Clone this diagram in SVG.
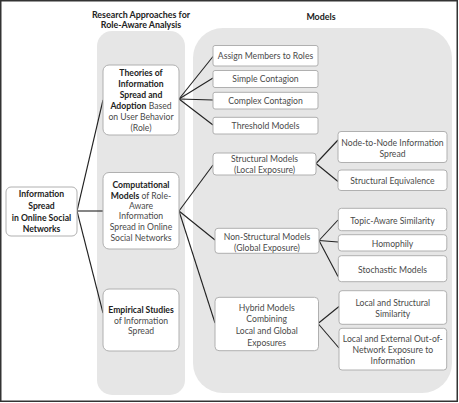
<svg xmlns="http://www.w3.org/2000/svg" width="459" height="403" viewBox="0 0 459 403">
<style>
text{font-family:Lato,"Open Sans","Liberation Sans",sans-serif;font-size:8.65px;fill:#4a4a4a;text-anchor:middle}
.b{font-weight:bold;fill:#222}
.t{font-weight:bold;fill:#222;font-size:8.9px}
.box{fill:#fff;stroke:#b0b0b0;stroke-width:1}
.panel{fill:#e6e6e6}
.c line{stroke:#222;stroke-width:1.1}
</style>
<rect x="0" y="0" width="459" height="403" fill="#fff"/>
<rect x="0.75" y="0.75" width="456.5" height="400.5" fill="none" stroke="#333" stroke-width="1.5"/>
<g id="panel-approaches"><rect class="panel" x="97" y="31" width="88" height="364" rx="15"/>
<text class="t" x="141" y="17.5">Research Approaches for</text>
<text class="t" x="141" y="28">Role-Aware Analysis</text></g>
<g id="panel-models"><rect class="panel" x="193" y="28" width="259" height="365" rx="30"/>
<text class="t" x="321" y="19.5">Models</text></g>
<g class="c" id="connectors">
<line x1="77" y1="211" x2="103" y2="100"/>
<line x1="77" y1="211" x2="103" y2="211"/>
<line x1="77" y1="211" x2="103" y2="313"/>
<line x1="179" y1="99" x2="213" y2="56.5"/>
<line x1="179" y1="99" x2="213" y2="78"/>
<line x1="179" y1="99" x2="213" y2="100"/>
<line x1="179" y1="99" x2="213" y2="125"/>
<line x1="179" y1="211" x2="213" y2="165"/>
<line x1="179" y1="211" x2="215" y2="240"/>
<line x1="179" y1="211" x2="215" y2="323"/>
<line x1="316" y1="163.5" x2="338" y2="140"/>
<line x1="316" y1="163.5" x2="338" y2="181.5"/>
<line x1="319" y1="240.5" x2="338" y2="220"/>
<line x1="319" y1="240.5" x2="338" y2="242"/>
<line x1="319" y1="240.5" x2="338" y2="276.5"/>
<line x1="318" y1="323.5" x2="339" y2="306.5"/>
<line x1="318" y1="323.5" x2="339" y2="348"/>
</g>
<g id="n-root"><rect class="box" x="6" y="187" width="71" height="49" rx="5"/>
<text class="b" x="41.5" y="197.3">Information</text>
<text class="b" x="41.5" y="209.3">Spread</text>
<text class="b" x="41.5" y="221.3">in Online Social</text>
<text class="b" x="41.5" y="232.3">Networks</text></g>
<g id="n-theories"><rect class="box" x="103" y="65" width="76" height="70" rx="6"/>
<text class="b" x="141" y="76">Theories of</text>
<text class="b" x="141" y="87">Information</text>
<text class="b" x="141" y="98">Spread and</text>
<text x="141" y="109"><tspan class="b">Adoption</tspan> Based</text>
<text x="141" y="120">on User Behavior</text>
<text x="141" y="130.5">(Role)</text></g>
<g id="n-computational"><rect class="box" x="103" y="172.5" width="76" height="76.5" rx="6"/>
<text class="b" x="141" y="188">Computational</text>
<text x="141" y="198.6"><tspan class="b">Models</tspan> of Role-</text>
<text x="141" y="208.8">Aware</text>
<text x="141" y="219.3">Information</text>
<text x="141" y="230">Spread in Online</text>
<text x="141" y="240.6">Social Networks</text></g>
<g id="n-empirical"><rect class="box" x="103" y="289" width="76" height="62" rx="6"/>
<text class="b" x="141" y="313.3">Empirical Studies</text>
<text x="141" y="323.6">of Information</text>
<text x="141" y="334.3">Spread</text></g>
<g id="n-assign"><rect class="box" x="213" y="45.5" width="105" height="20.5" rx="2"/><text x="265.5" y="59">Assign Members to Roles</text></g>
<g id="n-simple"><rect class="box" x="213" y="70.5" width="105" height="17" rx="2"/><text x="265.5" y="82.3">Simple Contagion</text></g>
<g id="n-complex"><rect class="box" x="213" y="92.3" width="105" height="16.7" rx="2"/><text x="265.5" y="104">Complex Contagion</text></g>
<g id="n-threshold"><rect class="box" x="213" y="117.3" width="105" height="16.7" rx="2"/><text x="265.5" y="129.3">Threshold Models</text></g>
<g id="n-structural"><rect class="box" x="213" y="153" width="103" height="22" rx="3"/>
<text x="264.5" y="161.8">Structural Models</text><text x="264.5" y="173">(Local Exposure)</text></g>
<g id="n-node2node"><rect class="box" x="338" y="131.5" width="109" height="31" rx="3"/>
<text x="392.5" y="145.5">Node-to-Node Information</text><text x="392.5" y="156.5">Spread</text></g>
<g id="n-structeq"><rect class="box" x="338" y="170" width="109" height="20.5" rx="3"/><text x="392.5" y="184.2">Structural Equivalence</text></g>
<g id="n-nonstructural"><rect class="box" x="215" y="228.3" width="104" height="25" rx="3"/>
<text x="267" y="240">Non-Structural Models</text><text x="267" y="251.2">(Global Exposure)</text></g>
<g id="n-topic"><rect class="box" x="338.3" y="208.3" width="108.5" height="22.4" rx="3"/><text x="392.5" y="223.5">Topic-Aware Similarity</text></g>
<g id="n-homophily"><rect class="box" x="338.3" y="234.7" width="108.5" height="16.3" rx="3"/><text x="392.5" y="246.9">Homophily</text></g>
<g id="n-stochastic"><rect class="box" x="338.3" y="255.7" width="108.5" height="26" rx="3"/><text x="392.5" y="272.5">Stochastic Models</text></g>
<g id="n-hybrid"><rect class="box" x="215" y="297.3" width="103.5" height="53.4" rx="4"/>
<text x="266.7" y="310.5">Hybrid Models</text><text x="266.7" y="322.2">Combining</text>
<text x="266.7" y="333.9">Local and Global</text><text x="266.7" y="345.5">Exposures</text></g>
<g id="n-localstruct"><rect class="box" x="339" y="290.7" width="107.7" height="33.6" rx="3"/>
<text x="392.8" y="305.9">Local and Structural</text><text x="392.8" y="317.2">Similarity</text></g>
<g id="n-localext"><rect class="box" x="339" y="328.3" width="107.7" height="41.7" rx="3"/>
<text x="392.8" y="341.5">Local and External Out-of-</text><text x="392.8" y="353.2">Network Exposure to</text><text x="392.8" y="364.2">Information</text></g>
</svg>
